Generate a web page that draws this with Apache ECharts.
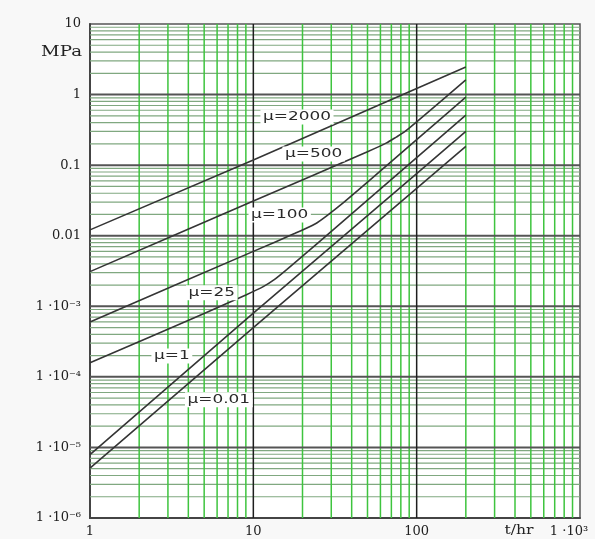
<!DOCTYPE html>
<html><head><meta charset="utf-8">
<script src="https://cdn.jsdelivr.net/npm/echarts@6/dist/echarts.min.js"></script>
<style>html,body{margin:0;padding:0;background:#f8f8f8;}#c{width:595px;height:539px;}</style>
</head><body><div id="c"></div>
<script>
// ---- data (t in hr, stress in MPa) ----
const time2000 = [1, 10, 100, 200];
const mpa2000  = [0.0121, 0.118, 1.22, 2.46];
const time500  = [1, 10, 50, 65, 75, 85, 100, 200];
const mpa500   = [0.0031, 0.031, 0.155, 0.205, 0.25, 0.30, 0.41, 1.61];
const time100  = [1, 10, 18, 24, 28, 35, 50, 100, 200];
const mpa100   = [0.0006, 0.006, 0.0108, 0.0148, 0.019, 0.0285, 0.0575, 0.23, 0.92];
const time25   = [1, 5, 9, 11.5, 13.5, 16, 25, 50, 100, 200];
const mpa25    = [0.000158, 0.00079, 0.00145, 0.0019, 0.0024, 0.0033, 0.0080, 0.032, 0.128, 0.51];
const time1    = [1, 10, 100, 200];
const mpa1     = [7.9e-6, 8.0e-4, 0.076, 0.30];
const time001  = [1, 10, 100, 200];
const mpa001   = [5.1e-6, 5.0e-4, 0.047, 0.185];

const curveNames = ['μ=2000', 'μ=500', 'μ=100', 'μ=25', 'μ=1', 'μ=0.01'];
const curveSmooth = [false, true, true, true, false, false];
// label anchor positions in data coordinates [t, MPa]
const labelT   = [18.5, 23.4, 14.5, 5.57, 3.17, 6.15];
const labelMPa = [0.48, 0.144, 0.0197, 0.00155, 0.000198, 0.0000472];

// tick labels
const xTickValues = [1, 10, 100, 1000];
const xTickText   = ['1', '10', '100', '1 ·10³'];
const yTickExp    = [-6, -5, -4, -3, -2, -1, 0, 1];
const yTickText   = ['1 ·10⁻⁶', '1 ·10⁻⁵', '1 ·10⁻⁴', '1 ·10⁻³', '0.01', '0.1', '1', '10'];

// grid-line positions
const minorMult = [2, 3, 4, 5, 6, 7, 8, 9];
const xDecades = [1, 10, 100];
const yDecades = [1e-6, 1e-5, 1e-4, 1e-3, 1e-2, 1e-1, 1];
const xMajor = [10, 100];
const yMajor = [1e-5, 1e-4, 1e-3, 1e-2, 1e-1, 1];
const X_MIN = 1, X_MAX = 1000, Y_MIN = 1e-6, Y_MAX = 10;

const xMinor = [];
xDecades.forEach(d => minorMult.forEach(m => xMinor.push(m * d)));
const yMinor = [];
yDecades.forEach(d => minorMult.forEach(m => yMinor.push(m * d)));

function pairs(t, v) { return t.map((x, i) => [x, v[i]]); }
const curves = [
  pairs(time2000, mpa2000), pairs(time500, mpa500), pairs(time100, mpa100),
  pairs(time25, mpa25), pairs(time1, mpa1), pairs(time001, mpa001)
];

const chart = echarts.init(document.getElementById('c'), null, {renderer: 'canvas'});
const serif = "'DejaVu Serif','Liberation Serif',serif";

const series = [];
function gridLine(data, color, width, z) {
  series.push({type: 'line', data: data, z: z, silent: true, animation: false,
    showSymbol: false, symbol: 'none', lineStyle: {color: color, width: width}});
}
yMinor.forEach(v => gridLine([[X_MIN, v], [X_MAX, v]], '#80a880', 1.2, 1));
xMinor.forEach(v => gridLine([[v, Y_MIN], [v, Y_MAX]], '#3ec43e', 1.5, 1));
yMajor.forEach(v => gridLine([[X_MIN, v], [X_MAX, v]], '#555', 2, 2));
xMajor.forEach(v => gridLine([[v, Y_MIN], [v, Y_MAX]], '#1e1e1e', 1.5, 2));

curves.forEach((d, i) => {
  series.push({
    name: curveNames[i], type: 'line', data: d, z: 3,
    showSymbol: false, symbol: 'none', smooth: curveSmooth[i] ? 0.25 : false, animation: false,
    lineStyle: {color: '#353535', width: 1.6}
  });
});

chart.setOption({
  animation: false,
  grid: {left: 90, right: 15, top: 24, bottom: 21, show: true,
         backgroundColor: '#ffffff', borderColor: '#555', borderWidth: 1.5},
  xAxis: {
    type: 'log', logBase: 10, min: X_MIN, max: X_MAX, interval: 1,
    axisLine: {show: true, lineStyle: {color: '#444', width: 2}},
    axisTick: {show: false}, splitLine: {show: false},
    axisLabel: {
      margin: 7, fontFamily: serif, fontSize: 13, color: '#222',
      formatter: function (v) {
        const i = xTickValues.findIndex(t => Math.abs(Math.log10(t) - Math.log10(v)) < 1e-6);
        if (i < 0) return '';
        if (i === xTickValues.length - 1) return '{e|' + xTickText[i] + '}';
        return xTickText[i];
      },
      rich: {e: {fontFamily: serif, fontSize: 13, color: '#222', padding: [0, 22, 0, 0]}}
    }
  },
  yAxis: {
    type: 'log', logBase: 10, min: Y_MIN, max: Y_MAX, interval: 1,
    axisLine: {show: true, lineStyle: {color: '#444', width: 2}},
    axisTick: {show: false}, splitLine: {show: false},
    axisLabel: {
      margin: 9, fontFamily: serif, fontSize: 13, color: '#222',
      formatter: function (v) {
        const e = Math.round(Math.log10(v));
        const i = yTickExp.indexOf(e);
        return i < 0 ? '' : yTickText[i];
      }
    }
  },
  series: series
});

// annotations
const graphics = [];
curveNames.forEach((n, i) => {
  const p = chart.convertToPixel({gridIndex: 0}, [labelT[i], labelMPa[i]]);
  graphics.push({
    type: 'text', x: p[0], y: p[1], z: 10, scaleX: 1.3,
    style: {text: n, fontFamily: "'DejaVu Sans',sans-serif", fontSize: 13, fill: '#2a2a2a',
            align: 'center', verticalAlign: 'middle', backgroundColor: '#fff', padding: [1, 2]}
  });
});
graphics.push({type: 'text', x: 82, y: 52, z: 10, scaleX: 1.3, originX: 0,
  style: {text: 'MPa', fontFamily: serif, fontSize: 14, fill: '#222', align: 'right', verticalAlign: 'middle'}});
graphics.push({type: 'text', x: 519, y: 531, z: 10, scaleX: 1.2,
  style: {text: 't/hr', fontFamily: serif, fontSize: 13, fill: '#222', align: 'center', verticalAlign: 'middle'}});
chart.setOption({graphic: graphics});
</script>
</body></html>
